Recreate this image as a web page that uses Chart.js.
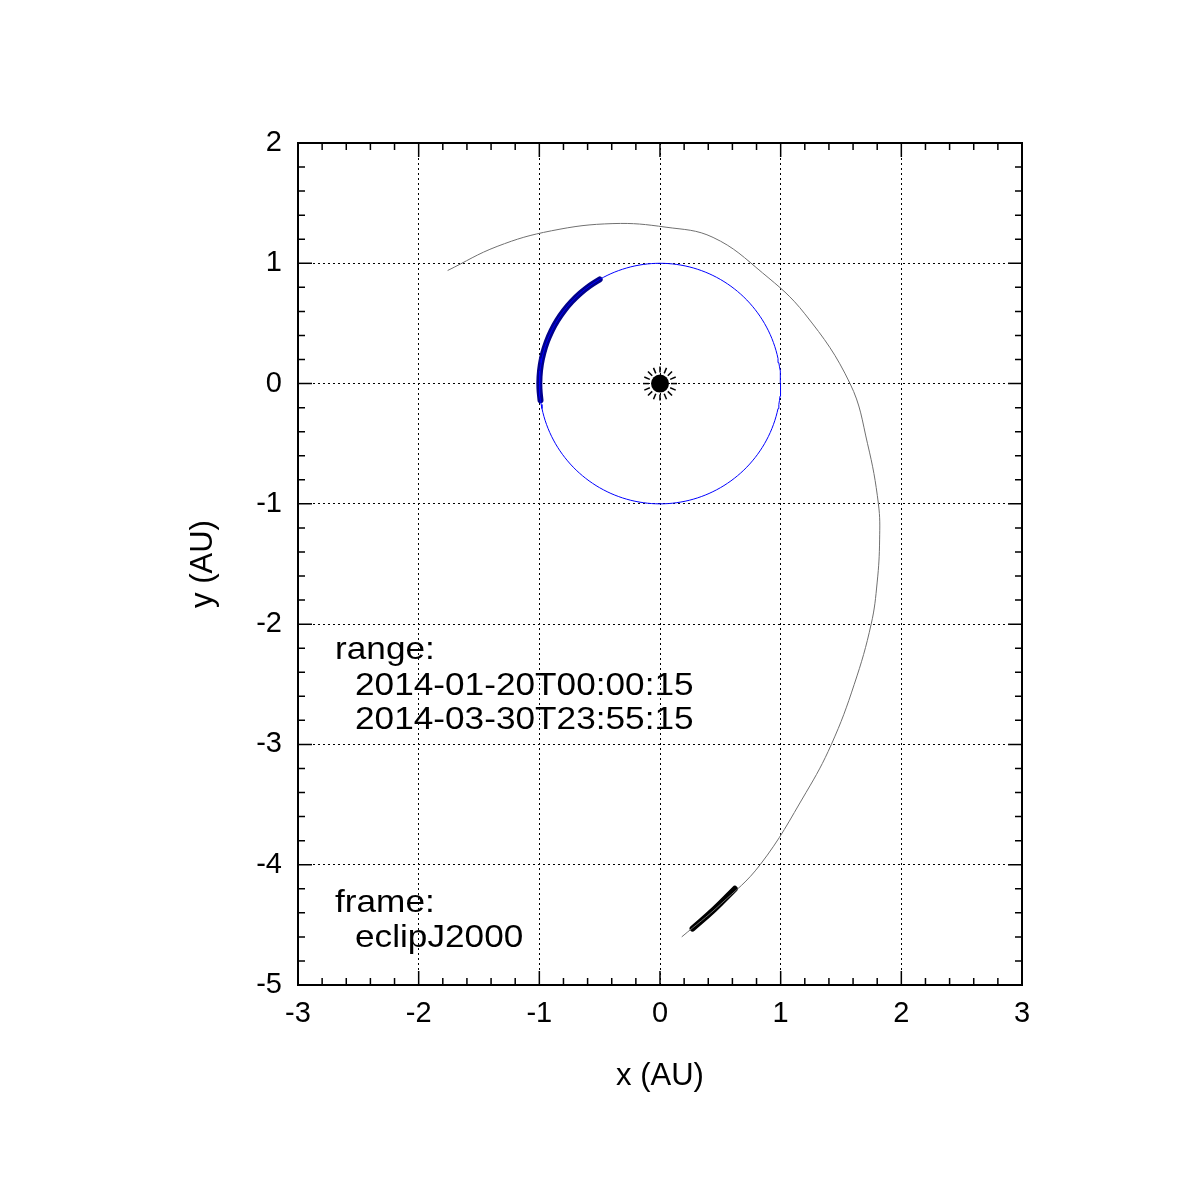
<!DOCTYPE html>
<html><head><meta charset="utf-8">
<script src="https://cdn.jsdelivr.net/npm/chart.js@4"></script>
<style>html,body{margin:0;padding:0;background:#fff}#w{width:1199px;height:1200px}</style>
</head><body><div id="w"><canvas id="c"></canvas></div>
<script>
const trajX=[-1.76,-1.35,-0.9,-0.39,0.05,0.44,0.85,1.20,1.575,1.72,1.81,1.82,1.80,1.75,1.61,1.42,1.21,0.83,0.50,0.18];
const trajY=[0.94,1.14,1.27,1.33,1.30,1.215,0.92,0.58,0,-0.5,-1.0,-1.3,-1.65,-2.0,-2.5,-3.0,-3.4,-4.0,-4.33,-4.60];
const segX=[0.27,0.45,0.62];
const segY=[-4.53,-4.37,-4.20];
const orbitRadius=1;
const arcStartDeg=188, arcEndDeg=120;
const xTicks=[-3,-2,-1,0,1,2,3];
const yTicks=[2,1,0,-1,-2,-3,-4,-5];
const labels=["range:","2014-01-20T00:00:15","2014-03-30T23:55:15","frame:","eclipJ2000"];

function circ(a0,a1,n){const p=[];for(let i=0;i<=n;i++){const a=(a0+(a1-a0)*i/n)*Math.PI/180;p.push({x:orbitRadius*Math.cos(a),y:orbitRadius*Math.sin(a)});}return p;}
const F='"Liberation Sans", Arial, sans-serif';
const deco={id:'deco',afterDraw(ch){
 const c=ch.ctx,a=ch.chartArea,xs=ch.scales.x,ys=ch.scales.y;
 c.save();c.strokeStyle='#000';c.lineWidth=1.5;
 for(let v=-3;v<=3.001;v+=0.2){const px=xs.getPixelForValue(v);const maj=Math.abs(v-Math.round(v))<1e-6;const L=maj?14:7;
  c.beginPath();c.moveTo(px,a.bottom);c.lineTo(px,a.bottom-L);c.moveTo(px,a.top);c.lineTo(px,a.top+L);c.stroke();}
 for(let v=-5;v<=2.001;v+=0.2){const py=ys.getPixelForValue(v);const maj=Math.abs(v-Math.round(v))<1e-6;const L=maj?14:7;
  c.beginPath();c.moveTo(a.left,py);c.lineTo(a.left+L,py);c.moveTo(a.right,py);c.lineTo(a.right-L,py);c.stroke();}
 c.lineWidth=2;c.strokeRect(a.left,a.top,a.right-a.left,a.bottom-a.top);
 const sx=xs.getPixelForValue(0),sy=ys.getPixelForValue(0);
 c.fillStyle='#000';c.beginPath();c.arc(sx,sy,9,0,Math.PI*2);c.fill();
 c.lineWidth=1.5;for(let k=0;k<16;k++){const t=k*Math.PI/8;c.beginPath();c.moveTo(sx+11*Math.cos(t),sy+11*Math.sin(t));c.lineTo(sx+17*Math.cos(t),sy+17*Math.sin(t));c.stroke();}
 c.font='32px '+F;c.fillStyle='#000';c.textBaseline='middle';c.textAlign='left';
 const lx=[335,355,355,335,355];const ly=[650,686,720,903,938];
 labels.forEach((t,i)=>{c.save();c.translate(lx[i],ly[i]);c.scale(1.1,1);c.fillText(t,0,0);c.restore();});
 c.restore();}};
new Chart(document.getElementById('c'),{type:'line',
 data:{datasets:[
  {data:circ(0,360,180),borderColor:'#0000ff',borderWidth:1,pointRadius:0,tension:0},
  {data:trajX.map((x,i)=>({x,y:trajY[i]})),borderColor:'#707070',borderWidth:1,pointRadius:0,tension:0.4,borderJoinStyle:'round'},
  {data:circ(arcStartDeg,arcEndDeg,12),borderColor:'#00008b',borderWidth:6,pointRadius:0,tension:0.4,borderJoinStyle:'round',borderCapStyle:'round'},
  {data:segX.map((x,i)=>({x,y:segY[i]})),borderColor:'#000',borderWidth:6,pointRadius:0,tension:0.4,borderJoinStyle:'round',borderCapStyle:'round'}
 ]},
 options:{responsive:true,maintainAspectRatio:false,animation:false,devicePixelRatio:1,
  elements:{line:{capBezierPoints:false}},
  layout:{padding:{left:185,right:177,top:143,bottom:105}},
  plugins:{legend:{display:false},tooltip:{enabled:false}},
  scales:{
   x:{type:'linear',min:-3,max:3,afterBuildTicks:s=>{s.ticks=xTicks.map(v=>({value:v}))},afterFit:s=>{s.height=110},
    grid:{color:'#000',lineWidth:1,drawTicks:false},border:{display:false,dash:[2,3]},
    ticks:{color:'#000',font:{size:29,family:F},padding:12},
    title:{display:true,text:'x (AU)',color:'#000',font:{size:31,family:F},padding:0}},
   y:{type:'linear',min:-5,max:2,afterBuildTicks:s=>{s.ticks=yTicks.map(v=>({value:v}))},afterFit:s=>{s.width=113},
    grid:{color:'#000',lineWidth:1,drawTicks:false},border:{display:false,dash:[2,3]},
    ticks:{color:'#000',font:{size:29,family:F},padding:16},
    title:{display:true,text:'y (AU)',color:'#000',font:{size:31,family:F},padding:0}}
  }},
 plugins:[deco]});
</script></body></html>
